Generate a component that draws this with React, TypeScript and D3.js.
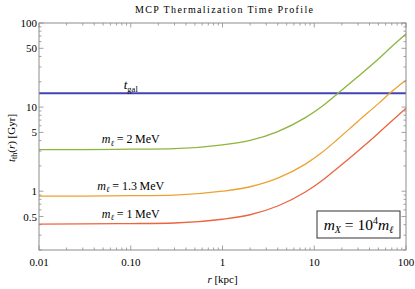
import { useMemo } from "react";
import * as d3 from "d3";

const WIDTH = 415;
const HEIGHT = 289;
const MARGIN = { top: 23, right: 9, bottom: 39, left: 39 };

// radius in kpc
const radius = [0.01, 0.03, 0.1, 0.3, 1, 2, 4, 8, 12, 18, 30, 50, 70, 100];
// thermalization time in Gyr, one list per lepton mass
const tMass2 = [3.12, 3.13, 3.16, 3.21, 3.56, 4.02, 5.12, 7.5, 10.1, 14.5, 23.1, 37.4, 52.4, 74];
const tMass13 = [0.873, 0.876, 0.884, 0.9, 1.0, 1.13, 1.43, 2.1, 2.86, 4.15, 6.8, 11.0, 15.3, 21.0];
const tMass1 = [0.407, 0.408, 0.412, 0.419, 0.464, 0.525, 0.667, 0.977, 1.32, 1.89, 3.01, 4.9, 6.85, 9.7];
const tGal = 14.6;

const seriesNames = ["2", "1.3", "1"];
const seriesColors = ["#8db53c", "#eca22f", "#ec6440"];
const seriesValues = [tMass2, tMass13, tMass1];

const xMajor = [0.01, 0.1, 1, 10, 100];
const xMajorLabels = ["0.01", "0.10", "1", "10", "100"];
const yMajor = [0.5, 1, 5, 10, 50, 100];
const yMajorLabels = ["0.5", "1", "5", "10", "50", "100"];

const FONT = "'Liberation Serif', 'DejaVu Serif', serif";
const FRAME = "#8c8c8c";

export default function App() {
  const boundsWidth = WIDTH - MARGIN.left - MARGIN.right;
  const boundsHeight = HEIGHT - MARGIN.top - MARGIN.bottom;

  const xScale = useMemo(
    () => d3.scaleLog().domain([0.01, 100]).range([0, boundsWidth]),
    [boundsWidth]
  );
  const yScale = useMemo(
    () => d3.scaleLog().domain([0.2, 100]).range([boundsHeight, 0]),
    [boundsHeight]
  );

  const line = d3
    .line<[number, number]>()
    .x((d) => xScale(d[0]))
    .y((d) => yScale(d[1]))
    .curve(d3.curveMonotoneX);

  const xMinor = xScale.ticks().filter((t) => !xMajor.some((m) => Math.abs(m - t) < 1e-9));
  const yMinor = yScale.ticks().filter((t) => !yMajor.some((m) => Math.abs(m - t) < 1e-9));

  const MAJ = 4.5;
  const MIN = 2.5;

  // ticks on all 4 sides, pointing inward (Mathematica frame style)
  const ticks = [
    ...xMajor.map((t) => ({ v: t, len: MAJ })),
    ...xMinor.map((t) => ({ v: t, len: MIN })),
  ].flatMap((t, i) => {
    const x = xScale(t.v);
    return [
      <line key={"xb" + i} x1={x} x2={x} y1={boundsHeight} y2={boundsHeight - t.len} stroke={FRAME} strokeWidth={0.8} />,
      <line key={"xt" + i} x1={x} x2={x} y1={0} y2={t.len} stroke={FRAME} strokeWidth={0.8} />,
    ];
  });
  const yTicks = [
    ...yMajor.map((t) => ({ v: t, len: MAJ })),
    ...yMinor.map((t) => ({ v: t, len: MIN })),
  ].flatMap((t, i) => {
    const y = yScale(t.v);
    return [
      <line key={"yl" + i} x1={0} x2={t.len} y1={y} y2={y} stroke={FRAME} strokeWidth={0.8} />,
      <line key={"yr" + i} x1={boundsWidth} x2={boundsWidth - t.len} y1={y} y2={y} stroke={FRAME} strokeWidth={0.8} />,
    ];
  });

  const xLabels = xMajor.map((t, i) => (
    <text key={i} x={xScale(t)} y={boundsHeight + 16} textAnchor="middle" fontSize={11}>
      {xMajorLabels[i]}
    </text>
  ));
  const yLabels = yMajor.map((t, i) => (
    <text key={i} x={-2} y={yScale(t)} textAnchor="end" dominantBaseline="central" fontSize={11}>
      {yMajorLabels[i]}
    </text>
  ));

  const curves = seriesValues.map((vals, i) => {
    const pts = radius.map((r, j) => [r, vals[j]] as [number, number]);
    return (
      <path key={i} d={line(pts) ?? ""} fill="none" stroke={seriesColors[i]} strokeWidth={1.3} />
    );
  });

  // curve labels sit above each curve at r = 0.1 kpc
  const labelR = 0.1;
  const curveLabels = seriesValues.map((vals, i) => {
    const v = vals[radius.indexOf(labelR)];
    return (
      <text key={i} x={xScale(labelR)} y={yScale(v) - 6} textAnchor="middle" fontSize={12}>
        <tspan fontStyle="italic">m</tspan>
        <tspan fontSize={8} dy={2.5} fontStyle="italic">ℓ</tspan>
        <tspan dy={-2.5}>{" = " + seriesNames[i] + "\u2009MeV"}</tspan>
      </text>
    );
  });

  const legendW = 83;
  const legendH = 27;
  const legendX = boundsWidth - 6 - legendW;
  const legendY = boundsHeight - 12 - legendH;

  return (
    <svg
      width={WIDTH}
      height={HEIGHT}
      style={{ position: "absolute", left: 0, top: 0, fontFamily: FONT, background: "white" }}
    >
      <text x={224} y={12.5} textAnchor="middle" fontSize={10} textLength={178} lengthAdjust="spacing">
        MCP Thermalization Time Profile
      </text>
      <g transform={`translate(${MARGIN.left},${MARGIN.top})`}>
        <line
          x1={0}
          x2={boundsWidth}
          y1={yScale(tGal)}
          y2={yScale(tGal)}
          stroke="#4343b6"
          strokeWidth={2}
        />
        <text x={xScale(labelR)} y={yScale(tGal) - 4} textAnchor="middle" fontSize={13}>
          <tspan fontStyle="italic">t</tspan>
          <tspan fontSize={8.5} dy={2.5}>gal</tspan>
        </text>
        {curves}
        {curveLabels}
        {ticks}
        {yTicks}
        <rect x={0} y={0} width={boundsWidth} height={boundsHeight} fill="none" stroke={FRAME} strokeWidth={1} />
        {xLabels}
        {yLabels}
        <rect x={legendX} y={legendY} width={legendW} height={legendH} fill="white" stroke="#333" strokeWidth={1} />
        <text x={legendX + legendW / 2} y={legendY + legendH / 2 + 5} textAnchor="middle" fontSize={15.5}>
          <tspan fontStyle="italic">m</tspan>
          <tspan fontSize={10} dy={3} fontStyle="italic">X</tspan>
          <tspan dy={-3}>{" = 10"}</tspan>
          <tspan fontSize={10} dy={-6}>4</tspan>
          <tspan dy={6} fontStyle="italic">m</tspan>
          <tspan fontSize={10} dy={3} fontStyle="italic">ℓ</tspan>
        </text>
        <text x={boundsWidth / 2} y={boundsHeight + 33} textAnchor="middle" fontSize={11}>
          <tspan fontStyle="italic">r</tspan>
          <tspan>{" [kpc]"}</tspan>
        </text>
      </g>
      <text transform={`translate(15,${MARGIN.top + 115}) rotate(-90)`} textAnchor="middle" fontSize={11}>
        <tspan fontStyle="italic">t</tspan>
        <tspan fontSize={8} dy={2}>th</tspan>
        <tspan dy={-2}>(</tspan>
        <tspan fontStyle="italic">r</tspan>
        <tspan>) [Gyr]</tspan>
      </text>
    </svg>
  );
}
